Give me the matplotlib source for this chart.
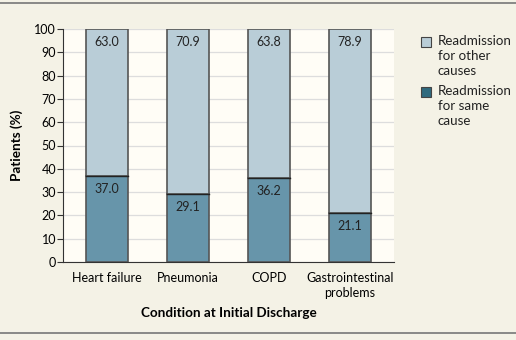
import numpy as np
import matplotlib.pyplot as plt
from matplotlib.patches import Rectangle
from matplotlib.lines import Line2D

plt.rcParams['font.family'] = ['Lato', 'DejaVu Sans']

conditions = ['Heart failure', 'Pneumonia', 'COPD', 'Gastrointestinal\nproblems']
same_cause = [37.0, 29.1, 36.2, 21.1]
other_causes = [63.0, 70.9, 63.8, 78.9]

light = '#b9cdd7'
dark = '#6795aa'
edge = '#555555'

fig = plt.figure(figsize=(5.16, 3.40), dpi=100)
fig.patch.set_facecolor('#f4f2e6')
ax = fig.add_axes([63 / 516, 1 - 262 / 340, 331 / 516, 233 / 340])
ax.set_facecolor('#fffdf6')

x = np.arange(len(conditions))
w = 0.52
ax.bar(x, same_cause, w, color=dark, edgecolor=edge, linewidth=1.2, zorder=3)
ax.bar(x, other_causes, w, bottom=same_cause, color=light, edgecolor=edge,
       linewidth=1.2, zorder=3)
# darker line where the two segments meet
for xi, s in zip(x, same_cause):
    ax.plot([xi - w / 2, xi + w / 2], [s, s], color='#222222', lw=1.0, zorder=4)

for xi, s, o in zip(x, same_cause, other_causes):
    ax.text(xi, s - 3.0, f'{s:.1f}', ha='center', va='top', fontsize=9,
            color='#222222', zorder=5)
    ax.text(xi, 97.2, f'{o:.1f}', ha='center', va='top', fontsize=9,
            color='#222222', zorder=5)

ax.set_xlim(-0.543, 3.543)
ax.set_ylim(0, 100)
ax.set_yticks(np.arange(0, 101, 10))
ax.set_xticks(x)
ax.set_xticklabels(conditions, fontsize=9, linespacing=1.3)
ax.tick_params(axis='y', labelsize=9, length=4, width=0.8, color='#333333', pad=1)
ax.tick_params(axis='x', length=0, pad=7)
ax.yaxis.grid(True, color='#dddddd', lw=0.9, zorder=0)
ax.set_axisbelow(True)
for side in ['top', 'right']:
    ax.spines[side].set_visible(False)
ax.spines['left'].set_color('#333333')
ax.spines['bottom'].set_color('#333333')

ax.set_ylabel('Patients (%)', fontsize=9.7, fontweight='bold', labelpad=8)
ax.set_xlabel('Condition at Initial Discharge', fontsize=9.7, fontweight='bold',
              labelpad=6)

# legend
fig.patches.append(Rectangle((421 / 516, 1 - 47 / 340), 10 / 516, 10 / 340,
                             transform=fig.transFigure, facecolor=light,
                             edgecolor='#444444', lw=0.8))
fig.patches.append(Rectangle((421 / 516, 1 - 97 / 340), 10 / 516, 10 / 340,
                             transform=fig.transFigure, facecolor='#2f6a7e',
                             edgecolor='#444444', lw=0.8))
fig.text(438 / 516, 1 - 35 / 340, 'Readmission\nfor other\ncauses', fontsize=9.6,
         va='top', linespacing=1.3, color='#222222')
fig.text(438 / 516, 1 - 85 / 340, 'Readmission\nfor same\ncause', fontsize=9.6,
         va='top', linespacing=1.3, color='#222222')

# frame lines
fig.add_artist(Line2D([0, 1], [1 - 3 / 340] * 2, color='#777777', lw=1.2))
fig.add_artist(Line2D([0, 1], [1 - 333 / 340] * 2, color='#777777', lw=1.2))

fig.savefig('out.png', dpi=100, facecolor=fig.get_facecolor())
